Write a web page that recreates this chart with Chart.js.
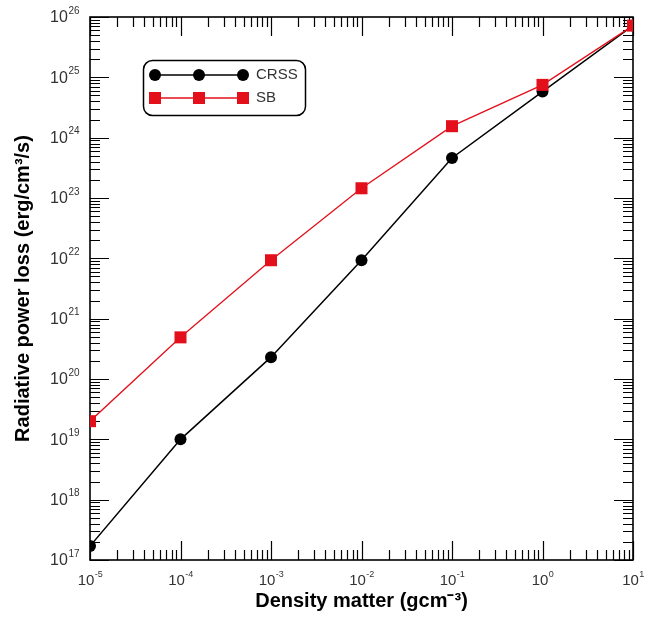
<!DOCTYPE html>
<html>
<head>
<meta charset="utf-8">
<title>Radiative power loss</title>
<script src="https://cdn.jsdelivr.net/npm/chart.js@4.4.0/dist/chart.umd.min.js"></script>
<style>
  html, body { margin: 0; padding: 0; background: #fff; }
  #grafico { display: block; }
</style>
</head>
<body>
<canvas id="grafico" width="659" height="617"></canvas>
<script>
// densidades (g/cm3) e perdas radiativas (erg/cm3/s)
const densidades = [1e-5, 1e-4, 1e-3, 1e-2, 1e-1, 1, 10];
const perdaCRSS = [1.7e17, 1.0e19, 2.3e20, 9.3e21, 4.6e23, 5.8e24, 7.2e25];
const perdaSB = [2.0e19, 4.9e20, 9.3e21, 1.45e23, 1.55e24, 7.5e24, 7.2e25];

const expoentesX = [-5, -4, -3, -2, -1, 0, 1];
const expoentesY = [17, 18, 19, 20, 21, 22, 23, 24, 25, 26];

const FONTE = "'Liberation Sans', Arial, sans-serif";

function pontos(valores) {
  return densidades.map((d, i) => ({ x: d, y: valores[i] }));
}

// texto "10" com expoente sobrescrito
function desenharPotencia(ctx, exp, x, y, alinhamento, tamBase, tamSup) {
  const base = "10";
  const sup = String(exp);
  ctx.font = tamBase + "px " + FONTE;
  const wBase = ctx.measureText(base).width;
  ctx.font = tamSup + "px " + FONTE;
  const wSup = ctx.measureText(sup).width;
  const total = wBase + wSup;
  let inicio = x - total / 2;
  if (alinhamento === "right") inicio = x - total;

  ctx.fillStyle = "#333333";
  ctx.textBaseline = "middle";
  ctx.textAlign = "left";
  ctx.font = tamBase + "px " + FONTE;
  ctx.fillText(base, inicio, y);
  ctx.font = tamSup + "px " + FONTE;
  ctx.fillText(sup, inicio + wBase + 0.5, y - tamBase * 0.45);
}

const eixosPlugin = {
  id: "eixos",
  beforeDatasetsDraw(chart) {
    const { ctx, chartArea } = chart;
    const sx = chart.scales.x;
    const sy = chart.scales.y;
    const { left, right, top, bottom } = chartArea;

    ctx.save();
    ctx.strokeStyle = "#000";
    ctx.lineWidth = 1.6;
    ctx.strokeRect(left, top, right - left, bottom - top);

    ctx.lineWidth = 1.2;
    ctx.beginPath();
    for (let e = expoentesX[0]; e <= expoentesX[expoentesX.length - 1]; e++) {
      for (let m = 1; m <= 9; m++) {
        const v = m * Math.pow(10, e);
        if (v > sx.max * 1.0001) break;
        const px = Math.round(sx.getPixelForValue(v)) + 0.5;
        const len = m === 1 ? 19 : 10;
        ctx.moveTo(px, bottom);
        ctx.lineTo(px, bottom - len);
        ctx.moveTo(px, top);
        ctx.lineTo(px, top + len);
      }
    }
    for (let e = expoentesY[0]; e <= expoentesY[expoentesY.length - 1]; e++) {
      for (let m = 1; m <= 9; m++) {
        const v = m * Math.pow(10, e);
        if (v > sy.max * 1.0001) break;
        const py = Math.round(sy.getPixelForValue(v)) + 0.5;
        const len = m === 1 ? 19 : 10;
        ctx.moveTo(left, py);
        ctx.lineTo(left + len, py);
        ctx.moveTo(right, py);
        ctx.lineTo(right - len, py);
      }
    }
    ctx.stroke();
    ctx.restore();
  },
  afterDraw(chart) {
    const { ctx, chartArea } = chart;
    const sx = chart.scales.x;
    const sy = chart.scales.y;

    ctx.save();
    expoentesX.forEach((e) => {
      desenharPotencia(ctx, e, sx.getPixelForValue(Math.pow(10, e)), chartArea.bottom + 21, "center", 15, 9);
    });
    expoentesY.forEach((e) => {
      desenharPotencia(ctx, e, sy.left + 79, sy.getPixelForValue(Math.pow(10, e)) + 1, "right", 16, 10);
    });

    // legenda com moldura arredondada
    ctx.strokeStyle = "#000";
    ctx.lineWidth = 1.5;
    ctx.beginPath();
    ctx.roundRect(143.5, 60.5, 162, 55, 9);
    ctx.stroke();

    chart.data.datasets.forEach((ds, i) => {
      const y = 75 + i * 23;
      const xs = [155, 199, 243];
      ctx.strokeStyle = ds.borderColor;
      ctx.lineWidth = ds.borderWidth;
      ctx.beginPath();
      ctx.moveTo(xs[0], y);
      ctx.lineTo(xs[2], y);
      ctx.stroke();
      ctx.fillStyle = ds.pointBackgroundColor;
      xs.forEach((x) => {
        ctx.beginPath();
        if (ds.pointStyle === "rect") {
          ctx.rect(x - 6, y - 6, 12, 12);
        } else {
          ctx.arc(x, y, 6, 0, Math.PI * 2);
        }
        ctx.fill();
      });
      ctx.fillStyle = "#333333";
      ctx.font = "15px " + FONTE;
      ctx.textAlign = "left";
      ctx.textBaseline = "middle";
      ctx.fillText(ds.label, 256, y);
    });
    ctx.restore();
  },
};

function montarGrafico() {
  const ctx = document.getElementById("grafico");

  return new Chart(ctx, {
    type: "line",
    data: {
      datasets: [
        {
          label: "CRSS",
          data: pontos(perdaCRSS),
          borderColor: "#000000",
          backgroundColor: "#000000",
          pointBackgroundColor: "#000000",
          pointBorderWidth: 0,
          borderWidth: 1.5,
          pointStyle: "circle",
          pointRadius: 6,
          order: 2,
        },
        {
          label: "SB",
          data: pontos(perdaSB),
          borderColor: "#e3101b",
          backgroundColor: "#e3101b",
          pointBackgroundColor: "#e3101b",
          pointBorderWidth: 0,
          borderWidth: 1.3,
          pointStyle: "rect",
          pointRadius: 8.5,
          order: 1,
        },
      ],
    },
    options: {
      responsive: false,
      animation: false,
      layout: {
        padding: { top: 17, right: 26, left: 0, bottom: 0 },
      },
      plugins: {
        legend: { display: false },
        tooltip: { enabled: false },
      },
      scales: {
        x: {
          type: "logarithmic",
          min: 1e-5,
          max: 10,
          grid: { display: false },
          border: { display: false },
          ticks: { display: false },
          afterFit: (scale) => {
            scale.height = 57;
          },
          title: {
            display: true,
            text: "Density matter (gcm\u207B\u00B3)",
            color: "#000",
            font: { family: FONTE, size: 20, weight: "bold" },
            padding: { top: 0, bottom: 4 },
          },
        },
        y: {
          type: "logarithmic",
          min: 1e17,
          max: 1e26,
          grid: { display: false },
          border: { display: false },
          ticks: { display: false },
          afterFit: (scale) => {
            scale.width = 90;
          },
          title: {
            display: true,
            text: "Radiative power loss (erg/cm\u00B3/s)",
            color: "#000",
            font: { family: FONTE, size: 20, weight: "bold" },
            padding: { top: 11, bottom: 0 },
          },
        },
      },
    },
    plugins: [eixosPlugin],
  });
}

montarGrafico();
</script>
</body>
</html>
